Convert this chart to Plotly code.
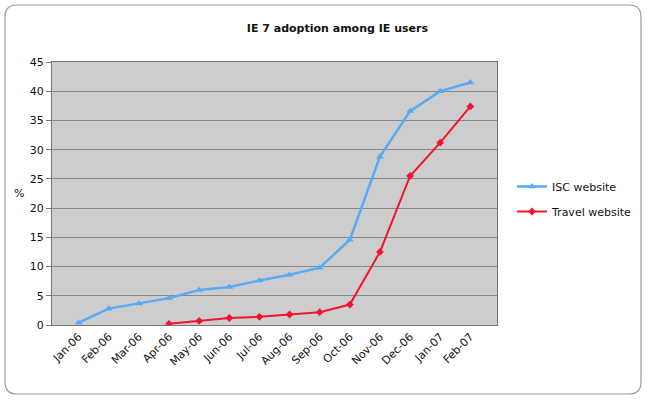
import plotly.graph_objects as go

months = ["Jan-06", "Feb-06", "Mar-06", "Apr-06", "May-06", "Jun-06", "Jul-06",
          "Aug-06", "Sep-06", "Oct-06", "Nov-06", "Dec-06", "Jan-07", "Feb-07"]
isc = [0.4, 2.8, 3.7, 4.6, 6.0, 6.5, 7.6, 8.6, 9.8, 14.6, 28.8, 36.6, 40.0, 41.5]
travel = [None, None, None, 0.2, 0.7, 1.2, 1.4, 1.8, 2.2, 3.5, 12.5, 25.5, 31.2, 37.4]
y_ticks = [0, 5, 10, 15, 20, 25, 30, 35, 40, 45]

FONT = "DejaVu Sans"
W, H = 650, 405
L, R, T, B = 52, 497, 62, 325

fig = go.Figure()
fig.add_trace(go.Scatter(x=months, y=isc, name="ISC website", mode="lines+markers",
                         legendgroup="a",
                         line=dict(color="#58ACF6", width=2.5),
                         marker=dict(symbol="triangle-up", size=7, color="#58ACF6")))
fig.add_trace(go.Scatter(x=months, y=travel, name="Travel website", mode="lines+markers",
                         legendgroup="b",
                         line=dict(color="#F3142D", width=2),
                         marker=dict(symbol="diamond", size=6, color="#F3142D")))

pw, ph = R - L, B - T
def px(x): return (x - L) / pw
def py(y): return (B - y) / ph

x0, x1, y0, y1 = px(5), px(641), py(394), py(5)
rx, ry = 12 / pw, 12 / ph
path = (f"M {x0+rx},{y1} L {x1-rx},{y1} Q {x1},{y1} {x1},{y1-ry} "
        f"L {x1},{y0+ry} Q {x1},{y0} {x1-rx},{y0} L {x0+rx},{y0} "
        f"Q {x0},{y0} {x0},{y0+ry} L {x0},{y1-ry} Q {x0},{y1} {x0+rx},{y1} Z")

fig.update_layout(
    width=W, height=H, autosize=False,
    margin=dict(l=L, r=W - R, t=T, b=H - B),
    paper_bgcolor="white", plot_bgcolor="#CDCDCD",
    font=dict(family=FONT, size=11, color="#111"),
    title=dict(text="<b>IE 7 adoption among IE users</b>", x=px(283), xanchor="center",
               y=1 - 28 / H, yanchor="middle", font=dict(size=11, family=FONT)),
    legend=dict(xref="container", yref="container", x=512 / W, y=1 - 172 / H,
                xanchor="left", yanchor="top", itemwidth=30,
                font=dict(size=11, family=FONT), tracegroupgap=6,
                bgcolor="rgba(0,0,0,0)"),
    shapes=[dict(type="path", path=path, xref="paper", yref="paper",
                 line=dict(color="#999", width=1.2), layer="below")],
    annotations=[dict(text="%", x=px(12), y=py(193), xref="paper", yref="paper",
                      xanchor="left", showarrow=False, font=dict(size=11, family=FONT))],
)
fig.update_xaxes(tickangle=-45, showgrid=False, showline=True, linecolor="#777",
                 linewidth=1, mirror=True, tickfont=dict(size=11, family=FONT))
fig.update_yaxes(range=[0, 45], tickvals=y_ticks, showgrid=True, gridcolor="#888",
                 gridwidth=1, showline=True, linecolor="#777", linewidth=1, mirror=True,
                 ticks="outside", ticklen=5, tickcolor="#777", zeroline=False,
                 tickfont=dict(size=11, family=FONT))

post = ("document.body.style.margin='0';document.body.style.overflow='hidden';"
        "var gd=document.getElementById('{plot_id}');"
        "Plotly.relayout(gd,{width:650,height:405});")
fig.write_html("out.html", config={"responsive": False, "displayModeBar": False},
               post_script=post)
